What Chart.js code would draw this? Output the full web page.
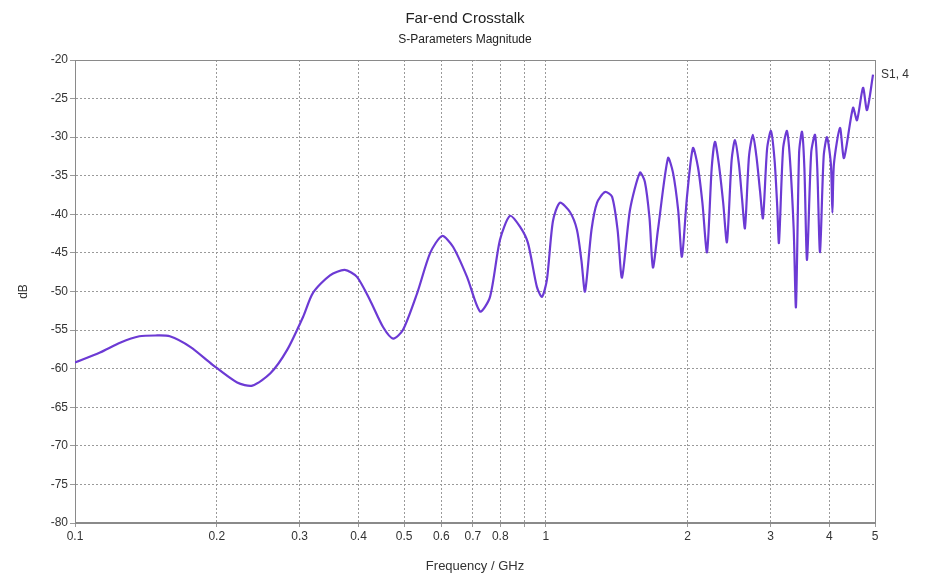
<!DOCTYPE html>
<html>
<head>
<meta charset="utf-8">
<script src="https://cdn.jsdelivr.net/npm/chart.js@4.4.1/dist/chart.umd.min.js"></script>
<style>
  html, body { margin: 0; padding: 0; background: #fff; }
  #wrap { position: relative; width: 930px; height: 578px; font-family: "Liberation Sans", Arial, sans-serif; }
  #title { position: absolute; left: 0; width: 930px; top: 9px; text-align: center; font-size: 15px; color: #222; }
  #subtitle { position: absolute; left: 0; width: 930px; top: 32px; text-align: center; font-size: 12px; color: #222; }
  #series { position: absolute; left: 881px; top: 67px; font-size: 12px; color: #333; }
</style>
</head>
<body>
<div id="wrap">
  <canvas id="chart" width="930" height="578"></canvas>
  <div id="title">Far-end Crosstalk</div>
  <div id="subtitle">S-Parameters Magnitude</div>
  <div id="series">S1, 4</div>
</div>
<script>
// frequency in GHz
const freq = [
  0.100, 0.113, 0.125, 0.137, 0.148, 0.159, 0.176, 0.196, 0.221, 0.238,
  0.260, 0.282, 0.305, 0.320, 0.348, 0.374, 0.397, 0.423, 0.451,
  0.474, 0.497, 0.533, 0.568, 0.602, 0.635, 0.680, 0.725, 0.761, 0.799,
  0.839, 0.881, 0.916, 0.957, 0.981, 1.005, 1.035, 1.071, 1.125, 1.164,
  1.190, 1.211, 1.250, 1.284, 1.335, 1.382, 1.420, 1.451, 1.509, 1.584,
  1.623, 1.660, 1.688, 1.730, 1.817, 1.862, 1.910, 1.945, 1.994, 2.053,
  2.104, 2.150, 2.199, 2.250, 2.286, 2.330, 2.380, 2.424, 2.480, 2.521,
  2.570, 2.610, 2.647, 2.700, 2.752, 2.800, 2.850, 2.891, 2.950, 3.006,
  3.060, 3.100, 3.126, 3.190, 3.251, 3.300, 3.360, 3.397, 3.450, 3.499,
  3.540, 3.586, 3.660, 3.729, 3.770, 3.821, 3.890, 3.954, 4.030, 4.060,
  4.090, 4.213, 4.297, 4.490, 4.579, 4.715, 4.808, 4.952
];
// S1,4 magnitude in dB
const s14 = [
  -59.2, -57.9, -56.6, -55.8, -55.7, -55.8, -57.2, -59.5, -61.8, -62.2,
  -60.6, -57.6, -53.3, -50.2, -47.9, -47.2, -48.1, -51.1, -54.6,
  -56.1, -55.0, -50.2, -45.0, -42.8, -44.2, -48.1, -52.6, -50.7, -43.3,
  -40.2, -41.6, -43.7, -49.4, -50.7, -48.5, -40.9, -38.5, -39.7, -42.0,
  -46.0, -50.0, -42.0, -38.5, -37.1, -37.7, -42.0, -48.2, -39.4, -34.6,
  -35.8, -40.5, -46.9, -42.0, -32.7, -34.6, -39.5, -45.5, -37.7, -31.4,
  -33.9, -38.5, -44.9, -34.0, -30.6, -33.5, -38.5, -43.6, -33.0, -30.4,
  -33.5, -38.0, -41.8, -32.5, -29.7, -32.5, -37.0, -40.5, -31.5, -29.2,
  -33.0, -39.0, -43.7, -31.5, -29.2, -33.0, -42.0, -52.0, -32.0, -29.3,
  -34.0, -45.9, -32.0, -29.7, -34.0, -44.9, -32.5, -30.0, -33.5, -39.8,
  -33.5, -28.8, -32.7, -26.2, -27.8, -23.6, -26.5, -21.9
];
const xTicks = [0.1, 0.2, 0.3, 0.4, 0.5, 0.6, 0.7, 0.8, 0.9, 1, 2, 3, 4, 5];
const xLabels = ['0.1', '0.2', '0.3', '0.4', '0.5', '0.6', '0.7', '0.8', '', '1', '2', '3', '4', '5'];

const frame = {
  id: 'frame',
  afterDraw(chart) {
    const { ctx, chartArea: a } = chart;
    ctx.save();
    ctx.strokeStyle = '#8a8a8a';
    ctx.lineWidth = 1;
    ctx.beginPath();
    ctx.moveTo(a.left, a.top + 0.5);
    ctx.lineTo(a.right + 0.5, a.top + 0.5);
    ctx.lineTo(a.right + 0.5, a.bottom);
    ctx.stroke();
    ctx.lineWidth = 2;
    ctx.beginPath();
    ctx.moveTo(a.left, a.bottom);
    ctx.lineTo(a.right, a.bottom);
    ctx.stroke();
    ctx.restore();
  }
};

new Chart(document.getElementById('chart'), {
  type: 'line',
  data: {
    datasets: [{
      label: 'S1, 4',
      data: freq.map((f, i) => ({ x: f, y: s14[i] })),
      borderColor: '#6c3ad4',
      borderWidth: 2.2,
      pointRadius: 0,
      tension: 0.25,
      fill: false
    }]
  },
  options: {
    responsive: false,
    animation: false,
    layout: { padding: { left: 0, right: 55, top: 60, bottom: 0 } },
    plugins: { legend: { display: false }, tooltip: { enabled: false } },
    scales: {
      x: {
        type: 'logarithmic',
        min: 0.1, max: 5,
        afterBuildTicks: scale => { scale.ticks = xTicks.map(v => ({ value: v })); },
        afterFit: scale => { scale.height = 55; },
        ticks: {
          autoSkip: false, maxRotation: 0,
          color: '#333', font: { family: 'Liberation Sans', size: 12 }, padding: 2,
          callback: (v, i) => xLabels[i]
        },
        grid: { color: '#9a9a9a', lineWidth: 1, tickLength: 4, drawTicks: true },
        border: { display: true, color: '#8a8a8a', dash: [2, 2] },
        title: { display: true, text: 'Frequency / GHz', color: '#333', font: { family: 'Liberation Sans', size: 13 }, padding: { top: 2 } }
      },
      y: {
        min: -80, max: -20,
        afterFit: scale => { scale.width = 75; },
        ticks: { stepSize: 5, color: '#333', font: { family: 'Liberation Sans', size: 12 }, padding: 2 },
        grid: { color: '#9a9a9a', lineWidth: 1, tickLength: 5 },
        border: { display: true, color: '#8a8a8a', dash: [2, 2] },
        title: { display: true, text: 'dB', color: '#333', font: { family: 'Liberation Sans', size: 12 }, padding: { top: 16, bottom: 0 } }
      }
    }
  },
  plugins: [frame]
});
</script>
</body>
</html>
